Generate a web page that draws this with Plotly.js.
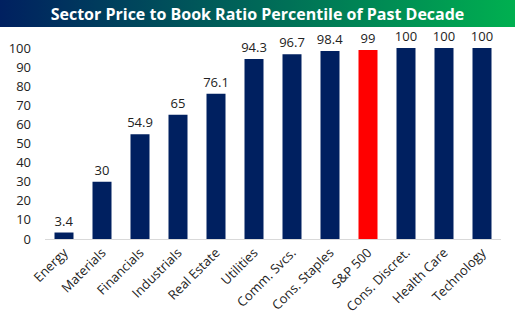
<!DOCTYPE html>
<html><head><meta charset="utf-8">
<script src="https://cdn.plot.ly/plotly-3.0.1.min.js"></script>
<style>html,body{margin:0;padding:0;background:#fff;}#chart{width:515px;height:323px;}</style>
</head><body><div id="chart"></div>
<script>
const categories = ["Energy","Materials","Financials","Industrials","Real Estate","Utilities","Comm. Svcs.","Cons. Staples","S&P 500","Cons. Discret.","Health Care","Technology"];
const values = [3.4, 30, 54.9, 65, 76.1, 94.3, 96.7, 98.4, 99, 100, 100, 100];
const highlight = "S&P 500";
const titleText = "Sector Price to Book Ratio Percentile of Past Decade";

const colors = categories.map(c => c === highlight ? "#FF0000" : "#002060");
const font = "Open Sans, Liberation Sans, sans-serif";

const W = 515, H = 323;
const L = 45, R = 14, T = 48, B = 84;
const pw = W - L - R, ph = H - T - B;

const grad = '<svg xmlns="http://www.w3.org/2000/svg" width="515" height="27" preserveAspectRatio="none" viewBox="0 0 515 27">' +
  '<defs><linearGradient id="g" x1="0" y1="0" x2="1" y2="0">' +
  '<stop offset="0" stop-color="#002060"/><stop offset="1" stop-color="#00B050"/></linearGradient></defs>' +
  '<rect x="0" y="0" width="515" height="27" fill="url(#g)"/></svg>';
const gradSrc = "data:image/svg+xml;base64," + btoa(grad);

const trace = {
  type: "bar",
  x: categories,
  y: values,
  marker: {color: colors},
  text: values.map(v => String(v)),
  textposition: "outside",
  constraintext: "none",
  textfont: {family: font, size: 13, color: "#222"},
  cliponaxis: false,
  hoverinfo: "none"
};

const layout = {
  width: W, height: H,
  margin: {l: L, r: R, t: T, b: B, pad: 0},
  paper_bgcolor: "#fff", plot_bgcolor: "#fff",
  showlegend: false,
  bargap: 0.5,
  title: {
    text: "<b>" + titleText + "</b>",
    font: {family: font, size: 16, color: "#fff"},
    x: 0.5, xanchor: "center", xref: "container",
    y: 1 - 14 / H, yanchor: "middle", yref: "container"
  },
  xaxis: {
    type: "category",
    tickangle: -45,
    tickfont: {family: font, size: 13, color: "#222"},
    showline: true, linecolor: "#d9d9d9", linewidth: 1,
    ticks: "", showgrid: false, zeroline: false, fixedrange: true
  },
  yaxis: {
    range: [0, 100], tick0: 0, dtick: 10,
    tickfont: {family: font, size: 13, color: "#222"},
    showgrid: false, zeroline: false, showline: false, ticks: "",
    ticklabelstandoff: 13, fixedrange: true
  },
  images: [{
    source: gradSrc, xref: "paper", yref: "paper",
    x: (0 - L) / pw, y: (H - B) / ph, sizex: W / pw, sizey: 27 / ph,
    xanchor: "left", yanchor: "top", sizing: "stretch", layer: "below"
  }]
};

Plotly.newPlot("chart", [trace], layout, {displayModeBar: false, staticPlot: true});
</script></body></html>
